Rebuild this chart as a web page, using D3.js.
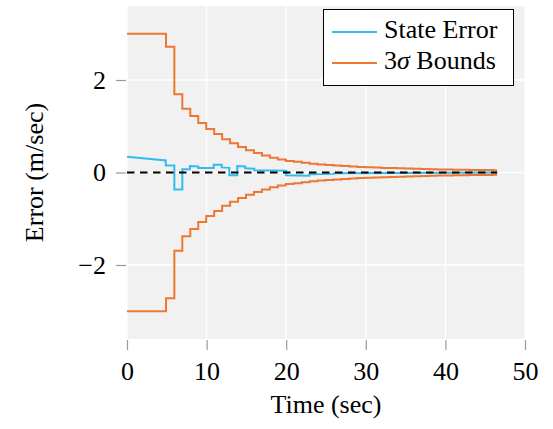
<!DOCTYPE html>
<html>
<head>
<meta charset="utf-8">
<script src="https://cdn.jsdelivr.net/npm/d3@7"></script>
<style>
  body { margin:0; background:#fff; }
  svg text { font-family: "Liberation Serif", "Times New Roman", serif; fill:#000; }
</style>
</head>
<body>
<div id="chart"></div>
<script>

//Measurement times and 3-sigma values (steps)
var sigmaTime = [0, 4.9, 5.95, 6.95, 7.95, 8.95, 9.95, 10.95, 11.95, 12.95, 13.95,
    14.95, 15.95, 16.95, 17.95, 18.95, 19.95, 20.95, 21.95, 22.95, 23.95, 24.95,
    25.95, 26.95, 27.95, 28.95, 29.95, 30.95, 31.95, 32.95, 33.95, 34.95, 35.95,
    36.95, 37.95, 38.95, 39.95, 40.95, 41.95, 42.95, 43.95, 44.95, 45.95, 46.5];
var sigmaValue = [3.0, 2.72, 1.69, 1.38, 1.22, 1.07, 0.94, 0.83, 0.72, 0.63, 0.55,
    0.48, 0.42, 0.37, 0.32, 0.28, 0.25, 0.23, 0.21, 0.19, 0.175, 0.16,
    0.15, 0.14, 0.13, 0.12, 0.115, 0.11, 0.10, 0.095, 0.09, 0.085, 0.08,
    0.075, 0.07, 0.066, 0.063, 0.06, 0.058, 0.056, 0.054, 0.052, 0.05, 0.05];

//State error
var errorTime = [0, 4.87, 4.87, 5.95, 5.95, 6.95, 6.95, 7.9, 7.9, 8.95, 8.95, 10.9,
    10.9, 11.9, 11.9, 12.85, 12.85, 13.85, 13.85, 14.85, 14.85, 16, 16, 20, 20,
    22.9, 22.9, 26, 26, 35, 46.5];
var errorValue = [0.34, 0.26, 0.15, 0.15, -0.37, -0.37, 0.07, 0.07, 0.14, 0.13, 0.10, 0.10,
    0.17, 0.17, 0.11, 0.10, -0.06, -0.06, 0.14, 0.13, 0.09, 0.08, 0.05, 0.04, -0.06,
    -0.07, -0.04, -0.03, -0.015, -0.01, 0.0];

var xTicks = [0, 10, 20, 30, 40, 50];
var yTicks = [-2, 0, 2];
var xDomain = [0, 50];
var yDomain = [-3.6, 3.6];

var legendLabels = ["State Error", "3\u03C3 Bounds"];
var colors = { error: "#33BBEE", bounds: "#EE7733" };
var serif = "'Liberation Serif', 'Times New Roman', serif";


var chart = {

  //**************************************************************************
  //** init
  //**************************************************************************
    init: function(parent){
        var width = 553, height = 429;
        var margin = {top: 6, right: 28, bottom: 90, left: 127};
        var w = width - margin.left - margin.right;
        var h = height - margin.top - margin.bottom;

        var svg = d3.select(parent).append("svg")
            .attr("width", width)
            .attr("height", height);

        var g = svg.append("g")
            .attr("transform", "translate(" + margin.left + "," + margin.top + ")");

        var x = d3.scaleLinear().domain(xDomain).range([0, w]);
        var y = d3.scaleLinear().domain(yDomain).range([h, 0]);

        g.append("rect")
            .attr("width", w)
            .attr("height", h)
            .attr("fill", "#f1f1f1");

        this.drawGridlines(g, x, y, w, h);
        this.drawAxes(g, x, y, w, h);
        this.drawLines(g, x, y);
        this.drawLabels(svg, margin, w, h);
        this.drawLegend(svg);
    },


  //**************************************************************************
  //** drawGridlines
  //**************************************************************************
    drawGridlines: function(g, x, y, w, h){
        g.append("g")
            .selectAll("line")
            .data(xTicks)
            .join("line")
            .attr("x1", d => x(d)).attr("x2", d => x(d))
            .attr("y1", 0).attr("y2", h)
            .attr("stroke", "#fff")
            .attr("stroke-width", 1.3);

        g.append("g")
            .selectAll("line")
            .data(yTicks)
            .join("line")
            .attr("x1", 0).attr("x2", w)
            .attr("y1", d => y(d)).attr("y2", d => y(d))
            .attr("stroke", "#fff")
            .attr("stroke-width", 1.3);
    },


  //**************************************************************************
  //** drawAxes
  //**************************************************************************
    drawAxes: function(g, x, y, w, h){
        var xAxis = g.append("g")
            .attr("transform", "translate(0," + (h + 1) + ")")
            .call(d3.axisBottom(x).tickValues(xTicks).tickSize(10).tickSizeOuter(0).tickPadding(12));

        var yAxis = g.append("g")
            .attr("transform", "translate(-1,0)")
            .call(d3.axisLeft(y).tickValues(yTicks).tickSize(10).tickSizeOuter(0).tickPadding(10));

        [xAxis, yAxis].forEach(function(a){
            a.attr("font-family", serif).attr("font-size", 26);
            a.select(".domain").remove();
            a.selectAll(".tick line").attr("stroke", "#999").attr("stroke-width", 1.2);
            a.selectAll("text").attr("fill", "#000");
        });
    },


  //**************************************************************************
  //** drawLines
  //**************************************************************************
    drawLines: function(g, x, y){
        var upper = sigmaTime.map((t, i) => [t, sigmaValue[i]]);
        var lower = sigmaTime.map((t, i) => [t, -sigmaValue[i]]);
        var err = errorTime.map((t, i) => [t, errorValue[i]]);

        var step = d3.line()
            .x(d => x(d[0]))
            .y(d => y(d[1]))
            .curve(d3.curveStepAfter);

        var line = d3.line()
            .x(d => x(d[0]))
            .y(d => y(d[1]));

        [upper, lower].forEach(function(data){
            g.append("path")
                .attr("d", step(data))
                .attr("fill", "none")
                .attr("stroke", colors.bounds)
                .attr("stroke-width", 2);
        });

        g.append("path")
            .attr("d", line(err))
            .attr("fill", "none")
            .attr("stroke", colors.error)
            .attr("stroke-width", 2);

        //Zero reference
        var t0 = d3.min(sigmaTime), t1 = d3.max(sigmaTime);
        g.append("path")
            .attr("d", line([[t0, 0], [t1, 0]]))
            .attr("fill", "none")
            .attr("stroke", "#000")
            .attr("stroke-width", 2.2)
            .attr("stroke-dasharray", "7.5,5.5");
    },


  //**************************************************************************
  //** drawLabels
  //**************************************************************************
    drawLabels: function(svg, margin, w, h){
        svg.append("text")
            .attr("x", margin.left + w/2)
            .attr("y", 413)
            .style("text-anchor", "middle")
            .style("font-size", "26px")
            .text("Time (sec)");

        svg.append("text")
            .attr("transform", "translate(43," + (margin.top + h/2) + ")rotate(-90)")
            .style("text-anchor", "middle")
            .style("font-size", "26px")
            .text("Error (m/sec)");
    },


  //**************************************************************************
  //** drawLegend
  //**************************************************************************
    drawLegend: function(svg){
        var lg = svg.append("g");
        lg.append("rect")
            .attr("x", 323.5).attr("y", 9.5)
            .attr("width", 190).attr("height", 76)
            .attr("fill", "#fff")
            .attr("stroke", "#000")
            .attr("stroke-width", 1);

        var items = [
            {label: legendLabels[0], color: colors.error},
            {label: legendLabels[1], color: colors.bounds}
        ];

        items.forEach(function(item, i){
            var cy = 32 + i*31;
            lg.append("line")
                .attr("x1", 332).attr("x2", 377)
                .attr("y1", cy).attr("y2", cy)
                .attr("stroke", item.color)
                .attr("stroke-width", 2);

            var txt = lg.append("text")
                .attr("x", 384)
                .attr("y", cy + 6)
                .style("font-size", "26px");

            if (i === 1){
                txt.append("tspan").text("3");
                txt.append("tspan").style("font-style", "italic").text("\u03C3");
                txt.append("tspan").text(" Bounds");
            }
            else txt.text(item.label);
        });
    }
};

chart.init(document.getElementById("chart"));

</script>
</body>
</html>
